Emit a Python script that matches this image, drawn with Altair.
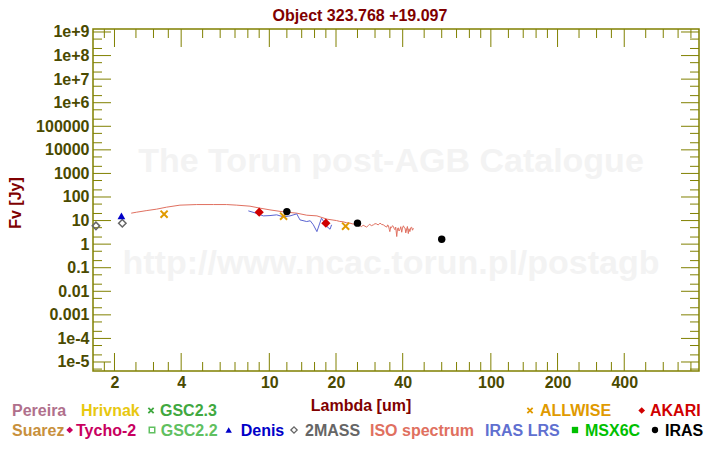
import altair as alt
import pandas as pd

# ---------------- data ----------------
iso_lam = [2.38, 2.52, 2.80, 3.10, 3.44, 3.95, 4.70, 5.59, 6.42, 7.13, 8.18, 9.08,
           10.07, 11.57, 13.3, 14.75, 16.4, 18.2,
           20.1, 20.8, 21.5, 22.3, 23.1, 23.8, 24.5, 25.1, 25.7, 26.1, 26.5, 27.0,
           27.5, 28.0, 28.4, 28.9, 29.5, 30.0, 30.5, 31.0, 31.6, 32.1, 32.7, 33.3,
           33.9, 34.2, 34.5, 34.8, 35.0, 35.3, 35.6, 36.0, 36.3, 36.6, 36.9, 37.2,
           37.6, 37.9, 38.2, 38.5, 38.9, 39.2, 39.6, 39.9, 40.3, 40.6, 41.0, 41.3,
           41.7, 42.0, 42.4, 42.7, 43.1, 43.5, 43.9, 44.3, 44.7]
iso_f = [20.6, 22.7, 26.6, 30.5, 37.1, 45.1, 47.8, 47.8, 47.8, 45.1, 40.8, 33.6,
         28.4, 23.4, 20.6, 16.9, 15.8, 11.5,
         10.0, 9.2, 8.9, 8.1, 7.8, 7.2, 6.8, 6.3, 6.0, 5.5, 6.4, 5.8,
         5.3, 6.2, 6.9, 6.1, 6.6, 7.4, 7.2, 6.5, 7.8, 6.9, 6.6, 5.8,
         5.3, 6.5, 6.1, 4.2, 3.4, 5.4, 5.0, 6.1, 5.6, 4.6, 4.1, 5.3,
         2.1, 4.6, 4.9, 3.6, 4.3, 5.5, 3.2, 4.8, 6.0, 5.1, 4.8, 3.0,
         4.4, 5.6, 2.8, 4.5, 3.4, 5.0, 5.2, 3.9, 4.75]

lrs_lam = [8.04, 8.62, 9.40, 10.07, 10.8, 11.57, 12.4, 13.3, 13.75, 14.75, 15.3,
           15.8, 16.4, 16.9, 17.2, 18.2, 18.8, 19.1]
lrs_f = [25.8, 21.2, 15.8, 16.3, 17.5, 14.4, 15.8, 19.2, 10.7, 9.1, 9.8,
         6.6, 3.4, 7.8, 12.6, 5.6, 4.3, 6.6]

mass_lam = [1.65, 2.17]
mass_f = [5.96, 7.7]
denis_lam = [2.15]
denis_f = [15.8]
allwise_lam = [3.35, 11.6, 22.1]
allwise_f = [18.7, 15.4, 5.78]
akari_lam = [9.0, 18.0]
akari_f = [22.7, 7.76]
iras_lam = [12.0, 25.0, 60.0]
iras_f = [24.0, 7.76, 1.62]

x_major = [2, 4, 10, 20, 40, 100, 200, 400]
x_minor = [1.8, 2.5, 3, 3.5, 5, 6, 7, 8, 9, 12, 14, 16, 18, 25, 30, 35,
           50, 60, 70, 80, 90, 120, 140, 160, 180, 250, 300, 350, 500, 600, 700, 800]
y_major = [1e-5, 1e-4, 1e-3, 1e-2, 1e-1, 1, 10, 100, 1e3, 1e4, 1e5, 1e6, 1e7, 1e8, 1e9]
y_minor = [5e-6, 2e-5, 5e-5, 2e-4, 5e-4, 2e-3, 5e-3, 2e-2, 5e-2, 0.2, 0.5, 2, 5,
           20, 50, 200, 500, 2e3, 5e3, 2e4, 5e4, 2e5, 5e5, 2e6, 5e6, 2e7, 5e7, 2e8, 5e8]

# ---------------- styling ----------------
W, H = 606, 342
OL = "#808000"
LAB = "#4a4a00"
DR = "#800000"
FONT = "Liberation Sans"

xscale = alt.Scale(type="log", domain=[1.6, 870], nice=False)
yscale = alt.Scale(type="log", domain=[4.15e-6, 1.34e9], nice=False)

xaxis = alt.Axis(values=x_major, ticks=False, domain=False, grid=False, title=None,
                 labelFont=FONT, labelFontWeight="bold", labelFontSize=16,
                 labelColor=LAB, labelPadding=3, labelFlush=False,
                 labelOverlap=False, format="~g")
yaxis = alt.Axis(values=y_major, ticks=False, domain=False, grid=False, title=None,
                 labelFont=FONT, labelFontWeight="bold", labelFontSize=16,
                 labelColor=LAB, labelPadding=4, labelFlush=False, labelOverlap=False,
                 labelExpr="datum.value >= 1e6 || datum.value < 0.0005 ? format(datum.value, '.0e') : format(datum.value, '~g')")


def xe(f):
    return alt.X(f, type="quantitative", scale=xscale, axis=xaxis)


def ye(f):
    return alt.Y(f, type="quantitative", scale=yscale, axis=yaxis)


def series(lam, f):
    return pd.DataFrame({"lam": lam, "f": f})


one = pd.DataFrame({"a": [0]})


def txt(s, x, y, color, size=16, align="left", angle=0, baseline="alphabetic", weight="bold"):
    return alt.Chart(one).mark_text(text=s, font=FONT, fontSize=size, fontWeight=weight,
                                    color=color, align=align, baseline=baseline,
                                    angle=angle).encode(x=alt.value(x), y=alt.value(y))


def sym(shape, x, y, color, size=40, filled=True, sw=1):
    return alt.Chart(one).mark_point(shape=shape, filled=filled, size=size, color=color,
                                     opacity=1, strokeWidth=sw).encode(
        x=alt.value(x), y=alt.value(y))


layers = []
# watermark
layers.append(txt("The Torun post-AGB Catalogue", 298, 143, "#f3f3f3", size=34, align="center"))
layers.append(txt("http://www.ncac.torun.pl/postagb", 298, 245, "#f3f3f3", size=34, align="center"))

# ticks (inward)
dxM = pd.DataFrame({"v": x_major})
dxm = pd.DataFrame({"v": x_minor})
dyM = pd.DataFrame({"v": y_major})
dym = pd.DataFrame({"v": y_minor})
for d, L in [(dxM, 18), (dxm, 9)]:
    layers.append(alt.Chart(d).mark_rule(color=OL, strokeWidth=1).encode(
        x=xe("v"), y=alt.value(H), y2=alt.value(H - L)))
    layers.append(alt.Chart(d).mark_rule(color=OL, strokeWidth=1).encode(
        x=xe("v"), y=alt.value(0), y2=alt.value(L)))
for d, L in [(dyM, 18), (dym, 9)]:
    layers.append(alt.Chart(d).mark_rule(color=OL, strokeWidth=1).encode(
        y=ye("v"), x=alt.value(0), x2=alt.value(L)))
    layers.append(alt.Chart(d).mark_rule(color=OL, strokeWidth=1).encode(
        y=ye("v"), x=alt.value(W - L), x2=alt.value(W)))

# spectra
layers.append(alt.Chart(series(iso_lam, iso_f)).mark_line(color="#e07060", strokeWidth=1, clip=True)
              .encode(x=xe("lam"), y=ye("f"), order="lam:Q"))
layers.append(alt.Chart(series(lrs_lam, lrs_f)).mark_line(color="#5a64d2", strokeWidth=1, clip=True)
              .encode(x=xe("lam"), y=ye("f"), order="lam:Q"))

XSHAPE = "M-1,-1L1,1M1,-1L-1,1"
# photometry
layers.append(alt.Chart(series(mass_lam, mass_f)).mark_point(shape="diamond", filled=False, size=55,
              color="#666666", strokeWidth=1.5, opacity=1).encode(x=xe("lam"), y=ye("f")))
layers.append(alt.Chart(series(denis_lam, denis_f)).mark_point(shape="triangle-up", filled=True, size=60,
              color="#0000c8", opacity=1).encode(x=xe("lam"), y=ye("f")))
layers.append(alt.Chart(series(allwise_lam, allwise_f)).mark_point(shape=XSHAPE, filled=False, size=50,
              color="#e09a00", strokeWidth=2, opacity=1).encode(x=xe("lam"), y=ye("f")))
layers.append(alt.Chart(series(akari_lam, akari_f)).mark_point(shape="diamond", filled=True, size=85,
              color="#d00000", opacity=1).encode(x=xe("lam"), y=ye("f")))
layers.append(alt.Chart(series(iras_lam, iras_f)).mark_point(shape="circle", filled=True, size=55,
              color="#000000", opacity=1).encode(x=xe("lam"), y=ye("f")))

# titles
layers.append(txt("Object 323.768 +19.097", 267, -8.5, DR, align="center"))
layers.append(txt("Lambda [um]", 268, 382, DR, align="center"))
layers.append(txt("Fv [Jy]", -72, 174, DR, align="center", angle=270))

# legend row 1
r1, s1 = 387, 381.5
layers.append(txt("Pereira", -81, r1, "#b0708c"))
layers.append(txt("Hrivnak", -12, r1, "#e8c810"))
layers.append(sym(XSHAPE, 58, s1, "#40a840", size=28, filled=False, sw=1.8))
layers.append(txt("GSC2.3", 67, r1, "#40a840"))
layers.append(sym(XSHAPE, 437, s1, "#e09a00", size=28, filled=False, sw=1.8))
layers.append(txt("ALLWISE", 447, r1, "#e09a00"))
layers.append(sym("diamond", 548.7, s1, "#d00000", size=45))
layers.append(txt("AKARI", 557, r1, "#d00000"))

# legend row 2
r2, s2 = 406.7, 401
layers.append(txt("Suarez", -81, r2, "#c8903c"))
layers.append(sym("diamond", -23.3, s2, "#c80060", size=45))
layers.append(txt("Tycho-2", -17, r2, "#c80060"))
layers.append(sym("square", 59, s2, "#60c060", size=30, filled=False, sw=1.5))
layers.append(txt("GSC2.2", 67.7, r2, "#60c060"))
layers.append(sym("triangle-up", 135.7, s2, "#0000c8", size=40))
layers.append(txt("Denis", 147.7, r2, "#0000c8"))
layers.append(sym("diamond", 201, s2, "#666666", size=40, filled=False, sw=1.3))
layers.append(txt("2MASS", 212, r2, "#666666"))
layers.append(txt("ISO spectrum", 277, r2, "#e07060"))
layers.append(txt("IRAS LRS", 392, r2, "#6070d0"))
layers.append(sym("square", 482, s2, "#00c000", size=40))
layers.append(txt("MSX6C", 492, r2, "#00c000"))
layers.append(sym("circle", 562, s2, "#000000", size=40))
layers.append(txt("IRAS", 572, r2, "#000000"))

chart = alt.layer(*layers).properties(
    width=W, height=H,
    autosize=alt.AutoSizeParams(type="none"),
    padding={"left": 85, "top": 21, "right": 11, "bottom": 70},
    background="white",
).configure_view(stroke=OL, strokeWidth=1.5)

chart.save("out.html", embed_options={"renderer": "svg", "actions": False})
